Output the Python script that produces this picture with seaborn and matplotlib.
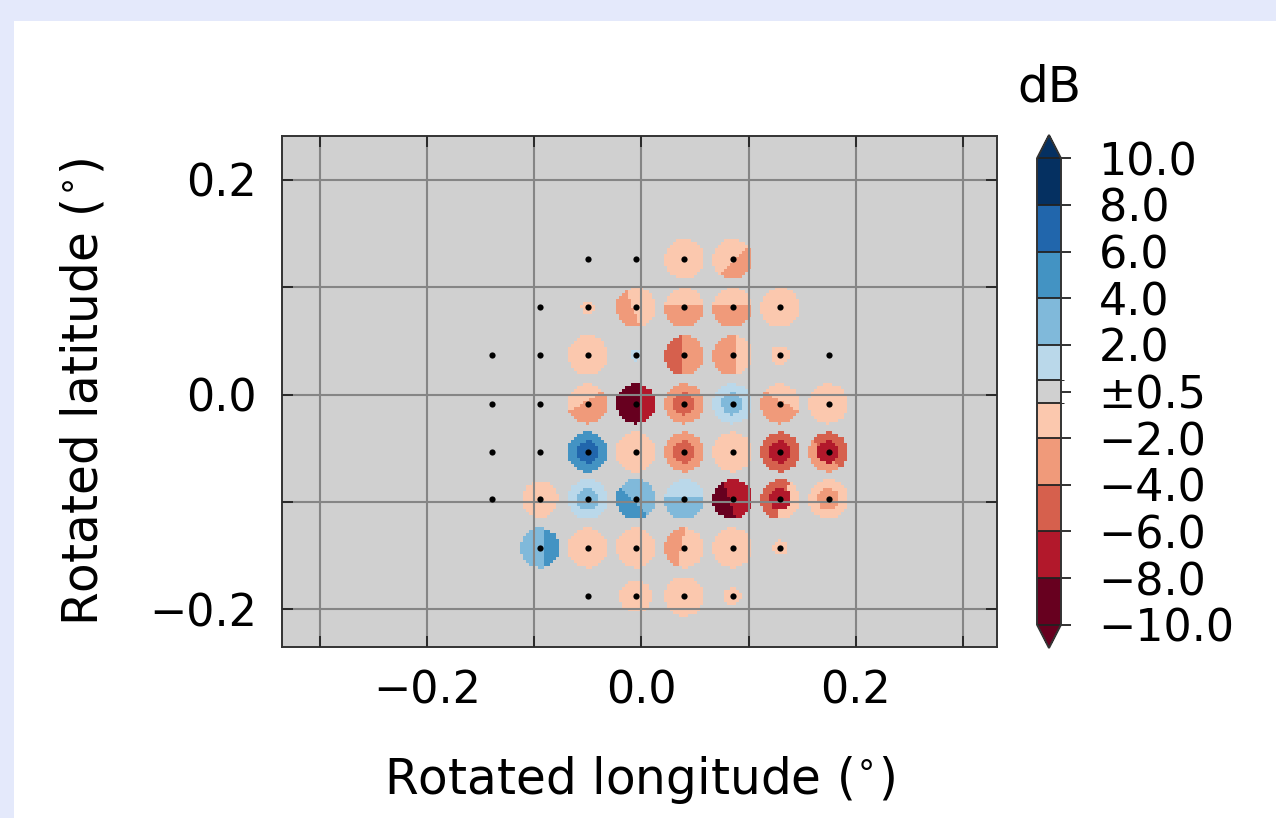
import numpy as np
import matplotlib
matplotlib.use("Agg")
import matplotlib.pyplot as plt
from matplotlib.colors import ListedColormap, BoundaryNorm
from matplotlib.patches import Rectangle
from matplotlib.ticker import MultipleLocator, FuncFormatter
import seaborn as sns
import pandas as pd

nan = np.nan

# ---------------- data ----------------
# observation sites (rotated lon / lat, degrees), row by row from top
site_lon = [-0.0501, -0.0051, 0.0401, 0.0850,
            -0.0946, -0.0501, -0.0051, 0.0401, 0.0850, 0.1296,
            -0.1397, -0.0946, -0.0501, -0.0051, 0.0401, 0.0850, 0.1296, 0.1746,
            -0.1397, -0.0946, -0.0501, -0.0051, 0.0401, 0.0850, 0.1296, 0.1746,
            -0.1397, -0.0946, -0.0501, -0.0051, 0.0401, 0.0850, 0.1296, 0.1746,
            -0.1397, -0.0946, -0.0501, -0.0051, 0.0401, 0.0850, 0.1296, 0.1746,
            -0.0946, -0.0501, -0.0051, 0.0401, 0.0850, 0.1296,
            -0.0501, -0.0051, 0.0401, 0.0850]
site_lat = [0.1266] * 4 + [0.0813] * 6 + [0.0366] * 8 + [-0.0086] * 8 + \
           [-0.0536] * 8 + [-0.0977] * 8 + [-0.1431] * 6 + [-0.1883] * 4

# main difference (dB) in each footprint
base_db = [nan, nan, -1.2, -1.2,
           nan, -1.2, -1.2, -3.0, -3.0, -1.2,
           nan, nan, -1.2, 1.2, -3.0, -3.0, -1.2, nan,
           nan, nan, -3.0, -9.0, -3.0, 1.2, -3.0, -1.2,
           nan, nan, 5.0, -1.2, -3.0, -1.2, -5.0, -5.0,
           nan, -1.2, 1.2, 3.0, 3.0, -7.0, -5.0, -1.2,
           3.0, -1.2, -1.2, -1.2, -1.2, -1.2,
           nan, -1.2, -1.2, -1.2]
# difference in the footprint core
core_db = [nan] * 4 + [nan] * 6 + [nan] * 8 + \
          [nan, nan, nan, nan, -5.0, 3.0, nan, nan] + \
          [nan, nan, 7.0, nan, -5.0, nan, -7.0, -7.0] + \
          [nan, nan, 3.0, nan, nan, nan, -7.0, -3.0] + \
          [nan] * 6 + [nan] * 4
# difference on one side of the footprint and direction of that side (deg)
side_db = [nan, nan, nan, -3.0,
           nan, nan, -3.0, -1.2, -1.2, nan,
           nan, nan, nan, nan, -5.0, -1.2, nan, nan,
           nan, nan, -1.2, -7.0, nan, nan, -1.2, nan,
           nan, nan, nan, nan, nan, nan, nan, -3.0,
           nan, nan, nan, 5.0, 1.2, -9.0, -1.2, nan,
           5.0, nan, nan, -3.0, nan, nan,
           nan, nan, nan, nan]
side_dir = [0, 0, 0, -45,
            0, 0, 200, 90, 90, 0,
            0, 0, 0, 0, 180, 0, 0, 0,
            0, 0, 120, 0, 0, 0, 60, 0,
            0, 0, 0, 0, 0, 0, 0, 225,
            0, 0, 0, 225, 90, 200, -20, 0,
            0, 0, 0, 170, 0, 0,
            0, 0, 0, 0]
# footprint radius (deg)
foot_r = [0.0185] * 52
foot_r[5] = 0.006
foot_r[13] = 0.005
foot_r[16] = 0.009
foot_r[35] = 0.017
foot_r[47] = 0.007
foot_r[49] = 0.015
foot_r[51] = 0.008

levels = [-10, -8, -6, -4, -2, -0.5, 0.5, 2, 4, 6, 8, 10]
level_colors = ['#67001f', '#b2182b', '#d6604d', '#f09a7a', '#fbc8ae', '#d0d0d0',
                '#bad8ea', '#80b9da', '#4393c3', '#2166ac', '#053061']
cbar_ticks = [-10, -8, -6, -4, -2, 0, 2, 4, 6, 8, 10]
cbar_labels = ['\u221210.0', '\u22128.0', '\u22126.0', '\u22124.0', '\u22122.0', '\u00b10.5',
               '2.0', '4.0', '6.0', '8.0', '10.0']

# ---------------- raster of footprints ----------------
step = 0.0028
ex = np.arange(-0.20, 0.24, step)
ey = np.arange(-0.23, 0.18, step)
X, Y = np.meshgrid(ex[:-1] + step / 2, ey[:-1] + step / 2)
field = np.full(X.shape, nan)
for lo, la, b, c, s, a, r in zip(site_lon, site_lat, base_db, core_db, side_db, side_dir, foot_r):
    if np.isnan(b):
        continue
    dx, dy = X - lo, Y - la
    d = np.hypot(dx, dy)
    inside = d <= r
    field[inside] = b
    if not np.isnan(s):
        t = np.deg2rad(a)
        proj = dx * np.cos(t) + dy * np.sin(t)
        field[inside & (proj > 0.15 * r)] = s
    if not np.isnan(c):
        field[d <= 0.55 * r] = c
field = np.ma.masked_invalid(field)

# ---------------- figure ----------------
sns.set_style("ticks")
plt.rcParams['font.family'] = ['DejaVu Sans']
plt.rcParams['axes.unicode_minus'] = True
plt.rcParams['text.color'] = 'black'
plt.rcParams['axes.labelcolor'] = 'black'
plt.rcParams['xtick.color'] = 'black'
plt.rcParams['ytick.color'] = 'black'

fig = plt.figure(figsize=(12.76, 8.18), dpi=100, facecolor='#e4e9fb')
fig.add_artist(Rectangle((14 / 1276, 0), 1, (818 - 21) / 818, transform=fig.transFigure,
                         facecolor='white', edgecolor='none', zorder=-5))

ax = fig.add_axes([282 / 1276, 1 - 647 / 818, 715 / 1276, 511 / 818])
ax.set_facecolor('#d0d0d0')

cmap = ListedColormap(level_colors)
cmap.set_under(level_colors[0])
cmap.set_over(level_colors[-1])
norm = BoundaryNorm(levels, ncolors=len(level_colors))

mesh = ax.pcolormesh(ex, ey, field, cmap=cmap, norm=norm, zorder=1, shading='flat')

ax.set_axisbelow(False)
ax.grid(True, color='#858585', linewidth=1.5, zorder=2)

df = pd.DataFrame({'lon': site_lon, 'lat': site_lat})
sns.scatterplot(data=df, x='lon', y='lat', color='black', s=20, linewidth=0,
                ax=ax, zorder=4, legend=False)

ax.set_xlim(-0.3352, 0.3315)
ax.set_ylim(-0.2354, 0.2410)


def fmt(v, pos):
    k = int(round(v / 0.1))
    if k % 2 != 0:
        return ''
    v = round(v, 1)
    if abs(v) < 1e-9:
        return '0.0'
    s = f'{abs(v):.1f}'
    return ('\u2212' + s) if v < 0 else s


for axis in (ax.xaxis, ax.yaxis):
    axis.set_major_locator(MultipleLocator(0.1))
    axis.set_major_formatter(FuncFormatter(fmt))

ax.tick_params(axis='both', direction='in', length=8, width=1.3, color='#222222',
               top=True, right=True, labelsize=32)
ax.tick_params(axis='x', pad=16)
ax.tick_params(axis='y', pad=18)
for sp in ax.spines.values():
    sp.set_color('#333333')
    sp.set_linewidth(1.4)

ax.set_xlabel('Rotated longitude ($^{\\circ}$)', fontsize=35, labelpad=30)
ax.set_ylabel('Rotated latitude ($^{\\circ}$)', fontsize=35, labelpad=30)

cax = fig.add_axes([1037 / 1276, 1 - 648 / 818, 24 / 1276, 513 / 818])
cb = fig.colorbar(mesh, cax=cax, extend='both', spacing='proportional',
                  ticks=cbar_ticks, drawedges=True)
cb.set_ticklabels(cbar_labels)
cb.ax.tick_params(direction='out', length=7, width=1.3, labelsize=32, pad=20, color='#222222')
cb.outline.set_edgecolor('#333333')
cb.outline.set_linewidth(1.4)
cb.dividers.set_color('#222222')
cb.dividers.set_linewidth(1.3)

fig.text(1049 / 1276, 1 - 88 / 818, 'dB', fontsize=35, ha='center', va='center')

fig.savefig('out.png', dpi=100, facecolor=fig.get_facecolor())
